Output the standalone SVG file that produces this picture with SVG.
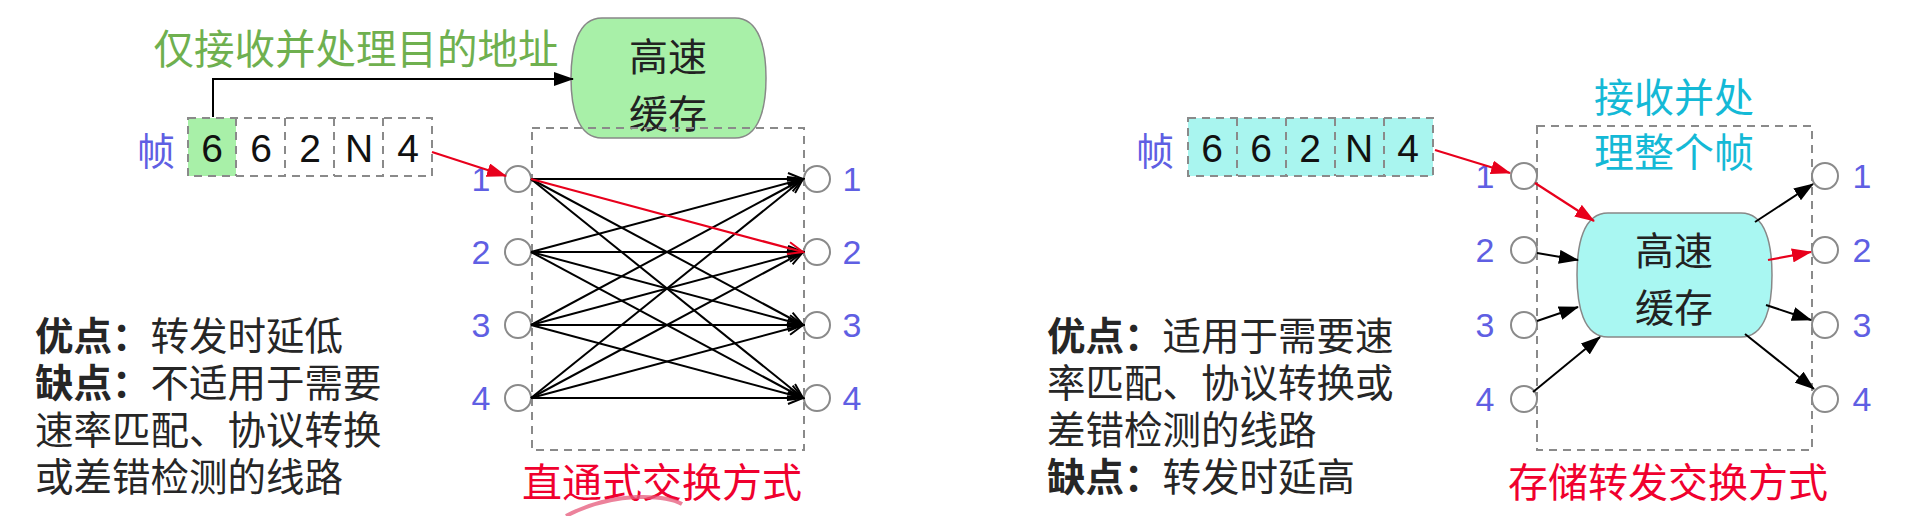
<svg xmlns="http://www.w3.org/2000/svg" width="1908" height="516" viewBox="0 0 1908 516">
<defs>
<style>
.cjk{font-family:"Noto Sans CJK SC","Noto Sans",sans-serif;}
.bodyf{font-family:"Liberation Sans","Noto Sans CJK SC",sans-serif;}
.num{font-family:"Liberation Sans","Noto Sans",sans-serif;}
.port{fill:#fff;stroke:#8a8a8a;stroke-width:2;}
.dash{fill:none;stroke:#8a8a8a;stroke-width:2;stroke-dasharray:8 6;}
.lbl{fill:#5f5fe3;font-size:34px;}
.body{fill:#262626;font-size:38.5px;}
.ln{stroke:#000;stroke-width:2;fill:none;}
.lnr{stroke:#e8001c;stroke-width:2.2;fill:none;}
.cache{stroke:#888;stroke-width:1.5;}
</style>
<marker id="open" markerWidth="18" markerHeight="14" refX="16" refY="7" orient="auto" markerUnits="userSpaceOnUse"><path d="M1,1 L16,7 L1,13" fill="none" stroke="#000" stroke-width="2"/></marker>
<marker id="openr" markerWidth="18" markerHeight="14" refX="16" refY="7" orient="auto" markerUnits="userSpaceOnUse"><path d="M1,1 L16,7 L1,13" fill="none" stroke="#e8001c" stroke-width="2"/></marker>
<marker id="fill" markerWidth="20" markerHeight="14" refX="19" refY="7" orient="auto" markerUnits="userSpaceOnUse"><path d="M0,0 L20,7 L0,14 Z" fill="#000"/></marker>
<marker id="fillr" markerWidth="20" markerHeight="14" refX="19" refY="7" orient="auto" markerUnits="userSpaceOnUse"><path d="M0,0 L20,7 L0,14 Z" fill="#e8001c"/></marker>
</defs>
<rect width="1908" height="516" fill="#fff"/>

<!-- LEFT PANEL -->
<text class="cjk" x="356" y="46" font-size="40.5" fill="#6fb04f" text-anchor="middle" dominant-baseline="central">仅接收并处理目的地址</text>

<g id="cache-left">
<path class="cache" fill="#a8f0a8" d="M602,18 H735 C760,18 766,50 766,78 C766,106 760,138 735,138 H602 C577,138 571,106 571,78 C571,50 577,18 602,18 Z"/>
<text class="cjk" x="668" y="54" font-size="39" fill="#222" text-anchor="middle" dominant-baseline="central">高速</text>
<text class="cjk" x="668" y="111" font-size="39" fill="#222" text-anchor="middle" dominant-baseline="central">缓存</text>
</g>

<g id="frame-left">
<text class="cjk" x="156" y="148" font-size="38" fill="#5f5fe3" text-anchor="middle" dominant-baseline="central">帧</text>
<rect x="188" y="118" width="48" height="58" fill="#a8f0a8"/>
<rect class="dash" x="188" y="118" width="244" height="58"/>
<path class="dash" d="M236,118 V176 M285,118 V176 M334,118 V176 M383,118 V176"/>
<g class="num" font-size="39" fill="#111" text-anchor="middle">
<text x="212" y="162">6</text><text x="261" y="162">6</text><text x="310" y="162">2</text><text x="359" y="162">N</text><text x="408" y="162">4</text>
</g>
</g>

<g id="switch-left">
<rect class="dash" x="532" y="128" width="272" height="322"/>
<circle class="port" cx="518" cy="179" r="13"/>
<circle class="port" cx="518" cy="252" r="13"/>
<circle class="port" cx="518" cy="325" r="13"/>
<circle class="port" cx="518" cy="398" r="13"/>
<circle class="port" cx="817" cy="179" r="13"/>
<circle class="port" cx="817" cy="252" r="13"/>
<circle class="port" cx="817" cy="325" r="13"/>
<circle class="port" cx="817" cy="398" r="13"/>
<g class="num lbl" text-anchor="middle">
<text x="481" y="191">1</text><text x="481" y="264">2</text><text x="481" y="337">3</text><text x="481" y="410">4</text>
<text x="852" y="191">1</text><text x="852" y="264">2</text><text x="852" y="337">3</text><text x="852" y="410">4</text>
</g>
</g>

<g id="connectors-left">
<path class="ln" d="M213,117 V79 H573" marker-end="url(#fill)"/>
<path class="lnr" d="M432,152 L506,176" marker-end="url(#fillr)"/>
<g marker-end="url(#open)">
<path class="ln" d="M531,179 L803,179"/><path class="ln" d="M531,179 L803,325"/><path class="ln" d="M531,179 L803,398"/>
<path class="ln" d="M531,252 L803,179"/><path class="ln" d="M531,252 L803,252"/><path class="ln" d="M531,252 L803,325"/><path class="ln" d="M531,252 L803,398"/>
<path class="ln" d="M531,325 L803,179"/><path class="ln" d="M531,325 L803,252"/><path class="ln" d="M531,325 L803,325"/><path class="ln" d="M531,325 L803,398"/>
<path class="ln" d="M531,398 L803,179"/><path class="ln" d="M531,398 L803,252"/><path class="ln" d="M531,398 L803,325"/><path class="ln" d="M531,398 L803,398"/>
</g>
<path class="lnr" d="M531,179 L803,252" marker-end="url(#openr)"/>
</g>

<g id="notes-left" class="bodyf body">
<text x="35" y="350"><tspan font-weight="bold">优点：</tspan>转发时延低</text>
<text x="35" y="397"><tspan font-weight="bold">缺点：</tspan>不适用于需要</text>
<text x="35" y="444">速率匹配、协议转换</text>
<text x="35" y="491">或差错检测的线路</text>
</g>
<text class="cjk" x="662" y="480" font-size="40" fill="#f0002e" text-anchor="middle" dominant-baseline="central">直通式交换方式</text>
<path d="M566,516 Q598,499 636,497 Q668,496 682,504" fill="none" stroke="#e5587a" stroke-width="4" opacity="0.75"/>

<!-- RIGHT PANEL -->
<g id="frame-right">
<text class="cjk" x="1155" y="148" font-size="38" fill="#5f5fe3" text-anchor="middle" dominant-baseline="central">帧</text>
<rect x="1188" y="118" width="245" height="58" fill="#a9f5ef"/>
<rect class="dash" x="1188" y="118" width="245" height="58"/>
<path class="dash" d="M1237,118 V176 M1286,118 V176 M1335,118 V176 M1384,118 V176"/>
<g class="num" font-size="39" fill="#111" text-anchor="middle">
<text x="1212" y="162">6</text><text x="1261" y="162">6</text><text x="1310" y="162">2</text><text x="1359" y="162">N</text><text x="1408" y="162">4</text>
</g>
</g>

<text class="cjk" x="1674" y="95" font-size="40" fill="#14b9d6" text-anchor="middle" dominant-baseline="central">接收并处</text>
<text class="cjk" x="1674" y="150" font-size="40" fill="#14b9d6" text-anchor="middle" dominant-baseline="central">理整个帧</text>

<g id="switch-right">
<rect class="dash" x="1537" y="126" width="275" height="324"/>
<circle class="port" cx="1524" cy="176" r="13"/>
<circle class="port" cx="1524" cy="250" r="13"/>
<circle class="port" cx="1524" cy="325" r="13"/>
<circle class="port" cx="1524" cy="399" r="13"/>
<circle class="port" cx="1825" cy="176" r="13"/>
<circle class="port" cx="1825" cy="250" r="13"/>
<circle class="port" cx="1825" cy="325" r="13"/>
<circle class="port" cx="1825" cy="399" r="13"/>
<g class="num lbl" text-anchor="middle">
<text x="1485" y="188">1</text><text x="1485" y="262">2</text><text x="1485" y="337">3</text><text x="1485" y="411">4</text>
<text x="1862" y="188">1</text><text x="1862" y="262">2</text><text x="1862" y="337">3</text><text x="1862" y="411">4</text>
</g>
</g>

<g id="cache-right">
<path class="cache" fill="#a9f7f2" d="M1608,213 H1741 C1766,213 1772,245 1772,275 C1772,305 1766,337 1741,337 H1608 C1583,337 1577,305 1577,275 C1577,245 1583,213 1608,213 Z"/>
<text class="cjk" x="1674" y="248" font-size="39" fill="#222" text-anchor="middle" dominant-baseline="central">高速</text>
<text class="cjk" x="1674" y="305" font-size="39" fill="#222" text-anchor="middle" dominant-baseline="central">缓存</text>
</g>

<g id="connectors-right">
<path class="lnr" d="M1435,150 L1510,173" marker-end="url(#fillr)"/>
<path class="lnr" d="M1535,183 L1594,221" marker-end="url(#fillr)"/>
<path class="ln" d="M1537,253 L1578,260" marker-end="url(#fill)"/>
<path class="ln" d="M1537,321 L1578,307" marker-end="url(#fill)"/>
<path class="ln" d="M1533,392 L1600,337" marker-end="url(#fill)"/>
<path class="ln" d="M1755,222 L1813,184" marker-end="url(#fill)"/>
<path class="lnr" d="M1768,260 L1811,252" marker-end="url(#fillr)"/>
<path class="ln" d="M1766,305 L1811,320" marker-end="url(#fill)"/>
<path class="ln" d="M1745,334 L1814,389" marker-end="url(#fill)"/>
</g>

<g id="notes-right" class="bodyf body">
<text x="1047" y="350"><tspan font-weight="bold">优点：</tspan>适用于需要速</text>
<text x="1047" y="397">率匹配、协议转换或</text>
<text x="1047" y="444">差错检测的线路</text>
<text x="1047" y="491"><tspan font-weight="bold">缺点：</tspan>转发时延高</text>
</g>
<text class="cjk" x="1668" y="480" font-size="40" fill="#f0002e" text-anchor="middle" dominant-baseline="central">存储转发交换方式</text>
</svg>
